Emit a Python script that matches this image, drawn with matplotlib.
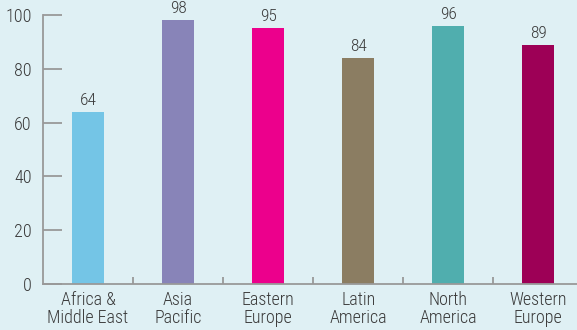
import matplotlib.pyplot as plt
import numpy as np

regions = ['Africa &\nMiddle East', 'Asia\nPacific', 'Eastern\nEurope',
           'Latin\nAmerica', 'North\nAmerica', 'Western\nEurope']
values = [64, 98, 95, 84, 96, 89]
colors = ['#74c5e6', '#8884b8', '#ec008c', '#8b7d62', '#50aeae', '#9d0056']
yticks = [0, 20, 40, 60, 80, 100]

bg = '#dff0f4'
plt.rcParams['font.family'] = ['Roboto Condensed', 'DejaVu Sans']
plt.rcParams['font.weight'] = 'light'

fig = plt.figure(figsize=(5.77, 3.3), dpi=100, facecolor=bg)
ax = fig.add_axes([43/577, 46/330, 1 - 43/577, 269/330])
ax.set_facecolor(bg)

x = np.arange(len(regions))
ax.bar(x, values, width=0.355, color=colors, zorder=2)
for xi, v in zip(x, values):
    ax.text(xi, v + 1.5, str(v), ha='center', va='bottom', fontsize=12.5,
            color='#3a3a3a', clip_on=False)

ax.set_xlim(-0.5, 5.43)
ax.set_ylim(0, 100)
ax.set_yticks(yticks)
ax.set_xticks(x)
ax.set_xticklabels(regions, fontsize=13, color='#3a3a3a', linespacing=1.0)
ax.tick_params(axis='x', length=0, pad=5)
ax.set_xticks(x[:-1] + 0.5, minor=True)
ax.tick_params(axis='x', which='minor', direction='in', length=5, color='#999999', width=1.3)
ax.tick_params(axis='y', direction='in', length=14, color='#999999', width=1.3,
               labelsize=13, labelcolor='#3a3a3a', pad=8)

for s in ['top', 'right']:
    ax.spines[s].set_visible(False)
for s in ['left', 'bottom']:
    ax.spines[s].set_color('#999999')
    ax.spines[s].set_linewidth(1.3)

fig.savefig('out.png', dpi=100, facecolor=bg)
